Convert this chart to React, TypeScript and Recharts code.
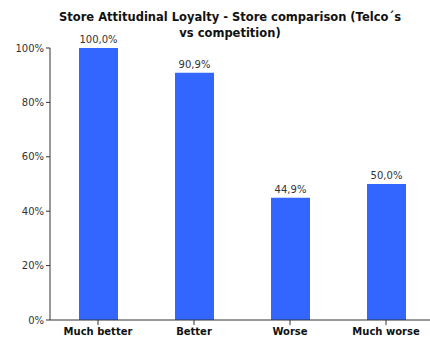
import { BarChart, Bar, XAxis, YAxis, LabelList } from 'recharts';

const categories = ['Much better', 'Better', 'Worse', 'Much worse'];
const shares = [100, 90.9, 44.9, 50];
const yTicks = [0, 20, 40, 60, 80, 100];

const BAR_COLOR = '#3366ff';
const AXIS_COLOR = '#333333';
const FONT = '"DejaVu Sans", Verdana, sans-serif';

const data = categories.map((name, i) => ({ name, value: shares[i] }));

export default function App() {
  return (
    <div style={{ position: 'fixed', left: 0, top: 0, width: 430, height: 337, overflow: 'hidden', background: '#fff' }}>
      {/* title */}
      <div
        style={{
          position: 'absolute',
          left: 30,
          top: 9,
          width: 400,
          textAlign: 'center',
          fontFamily: FONT,
          fontWeight: 'bold',
          fontSize: 11.5,
          lineHeight: '16px',
          color: '#111',
        }}
      >
        Store Attitudinal Loyalty - Store comparison (Telco´s
        <br />
        vs competition)
      </div>
      <div style={{ position: 'absolute', left: 0, top: 0 }}>
        <BarChart
          width={434}
          height={337}
          data={data}
          margin={{ top: 48, right: 0, left: 0, bottom: 0 }}
          barSize={39}
        >
          <XAxis
            dataKey="name"
            height={17}
            stroke={AXIS_COLOR}
            tickSize={5}
            interval={0}
            tick={{ fontFamily: FONT, fontSize: 10, fontWeight: 'bold', fill: '#111', dy: 1 }}
          />
          <YAxis
            width={50}
            domain={[0, 100]}
            ticks={yTicks}
            stroke={AXIS_COLOR}
            tickSize={4}
            tick={{ fontFamily: FONT, fontSize: 10, fill: '#333' }}
            tickFormatter={(v) => `${v}%`}
          />
          <Bar dataKey="value" fill={BAR_COLOR} isAnimationActive={false}>
            <LabelList
              dataKey="value"
              position="top"
              offset={5}
              style={{ fontFamily: FONT, fontSize: 10, fill: '#333' }}
              formatter={(v: number) => `${v.toFixed(1).replace('.', ',')}%`}
            />
          </Bar>
        </BarChart>
      </div>
    </div>
  );
}
